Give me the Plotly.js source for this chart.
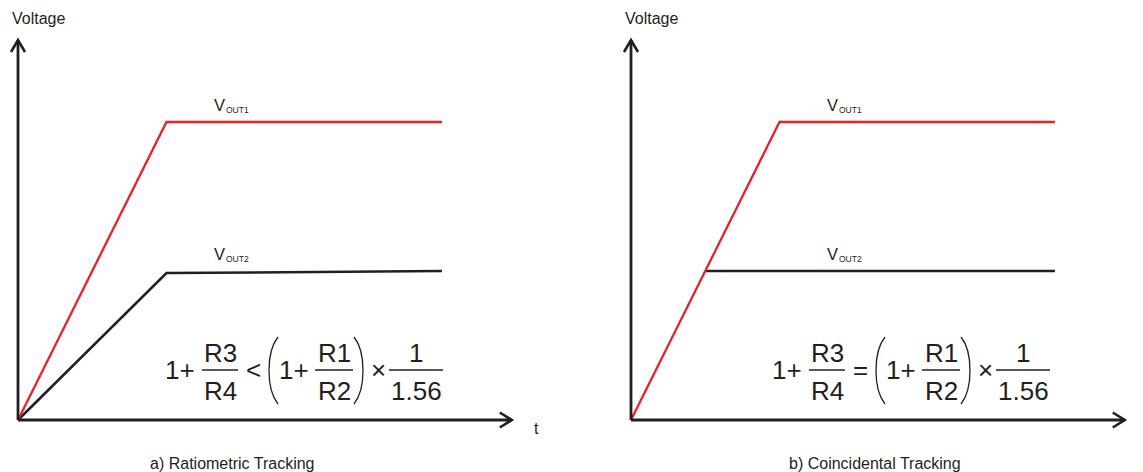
<!DOCTYPE html>
<html><head><meta charset="utf-8">
<script src="https://cdn.plot.ly/plotly-3.0.1.min.js"></script>
<style>html,body{margin:0;padding:0;background:#fff;} #chart{width:1143px;height:472px;}</style>
</head><body><div id="chart"></div>
<script>
// ---------- data ----------
const captions = ['a) Ratiometric Tracking', 'b) Coincidental Tracking'];
const yLabel = 'Voltage';
const xLabel = 't';
const seriesMain = 'V';
const seriesSubs = ['OUT1', 'OUT2'];
// panel a) ratiometric
const timeA1 = [0, 1, 2.855];
const vout1A = [0, 1, 1];
const timeA2 = [0, 1, 2.855];
const vout2A = [0, 0.493, 0.5];
// panel b) coincidental (VOUT2 follows VOUT1 until it settles)
const timeB1 = [0, 1, 2.855];
const vout1B = [0, 1, 1];
const timeB2 = [0.5, 2.855];
const vout2B = [0.5, 0.5];
// formulas
const relations = ['<', '='];

// ---------- geometry / style ----------
const W = 1143, H = 472;
const PX_T = 148.5, PX_V = 298;
const ORIGIN_Y = 420;
const ORIGINS_X = [18, 631];
const FONT = 'Liberation Sans, Arial, Helvetica, sans-serif';
const RED = '#e8202a', BLK = '#231f20', AX = '#231f20';

const fx = px => px / W;
const fy = py => 1 - py / H;

const layout = {
  width: W, height: H,
  margin: {l: 0, r: 0, t: 0, b: 0, pad: 0},
  paper_bgcolor: '#fff', plot_bgcolor: '#fff',
  showlegend: false,
  xaxis: {domain: [0, 0.5], range: [-ORIGINS_X[0] / PX_T, (W / 2 - ORIGINS_X[0]) / PX_T], visible: false, fixedrange: true},
  xaxis2: {domain: [0.5, 1], range: [-(ORIGINS_X[1] - W / 2) / PX_T, (W - ORIGINS_X[1]) / PX_T], visible: false, fixedrange: true, anchor: 'y2'},
  yaxis: {domain: [0, 1], range: [-(H - ORIGIN_Y) / PX_V, ORIGIN_Y / PX_V], visible: false, fixedrange: true},
  yaxis2: {domain: [0, 1], range: [-(H - ORIGIN_Y) / PX_V, ORIGIN_Y / PX_V], visible: false, fixedrange: true, anchor: 'x2'},
  shapes: [], annotations: []
};

function ann(text, px, py, size, xanchor, color) {
  layout.annotations.push({text: text, xref: 'paper', yref: 'paper', x: fx(px), y: fy(py),
    xanchor: xanchor || 'center', yanchor: 'middle', showarrow: false,
    font: {family: FONT, size: size, color: color || '#231f20'}});
}
function pline(x0, y0, x1, y1, w) {
  layout.shapes.push({type: 'line', xref: 'paper', yref: 'paper', x0: fx(x0), y0: fy(y0), x1: fx(x1), y1: fy(y1),
    line: {color: BLK, width: w}});
}
function ppath(pts, w) {
  const d = 'M' + fx(pts[0]) + ',' + fy(pts[1]) + ' C' + fx(pts[2]) + ',' + fy(pts[3]) + ' ' + fx(pts[4]) + ',' + fy(pts[5]) + ' ' + fx(pts[6]) + ',' + fy(pts[7]);
  layout.shapes.push({type: 'path', xref: 'paper', yref: 'paper', path: d, line: {color: BLK, width: w}});
}

// axes with arrows (data coordinates)
const X_TIP = 3.325, Y_TIP = (ORIGIN_Y - 40) / PX_V;
['', '2'].forEach(function (s) {
  const xr = 'x' + s, yr = 'y' + s;
  layout.shapes.push({type: 'line', xref: xr, yref: yr, x0: 0, y0: 0, x1: 0, y1: Y_TIP, line: {color: AX, width: 2.8}});
  layout.shapes.push({type: 'line', xref: xr, yref: yr, x0: 0, y0: 0, x1: X_TIP, y1: 0, line: {color: AX, width: 2.8}});
  const hx = 7 / PX_T, hy = 12 / PX_V;
  layout.shapes.push({type: 'path', xref: xr, yref: yr, path: 'M' + (-hx) + ',' + (Y_TIP - hy) + ' L0,' + Y_TIP + ' L' + hx + ',' + (Y_TIP - hy), line: {color: AX, width: 2.6}});
  const lx = 12 / PX_T, ly = 7.5 / PX_V;
  layout.shapes.push({type: 'path', xref: xr, yref: yr, path: 'M' + (X_TIP - lx) + ',' + ly + ' L' + X_TIP + ',0 L' + (X_TIP - lx) + ',' + (-ly), line: {color: AX, width: 2.6}});
});

// texts per panel
[0, 1].forEach(function (i) {
  const o = ORIGINS_X[i] - ORIGINS_X[0];
  ann(yLabel, 10 + o, 18, 16, 'left');
  ann(seriesMain, 212 + o, 105, 16.5, 'left');
  ann(seriesSubs[0], 224 + o, 110, 8.5, 'left');
  ann(seriesMain, 212 + o, 254, 16.5, 'left');
  ann(seriesSubs[1], 224 + o, 259, 8.5, 'left');
  ann(captions[i], [232, 874.5][i], 463, 16, 'center');
  // formula
  const f = i === 0 ? 0 : 607;
  ann('1+', 180 + f, 370, 26);
  pline(202 + f, 370, 238 + f, 370, 1.3);
  ann('R3', 220 + f, 353, 26);
  ann('R4', 220 + f, 391, 26);
  ann(relations[i], 253 + f, 370, 26);
  ppath([278 + f, 337, 266 + f, 352, 266 + f, 389, 278 + f, 404], 1.3);
  ann('1+', 294 + f, 370, 26);
  pline(315 + f, 370, 353 + f, 370, 1.3);
  ann('R1', 334 + f, 353, 26);
  ann('R2', 334 + f, 391, 26);
  ppath([354 + f, 337, 366 + f, 352, 366 + f, 389, 354 + f, 404], 1.3);
  ann('\u00d7', 378 + f, 370, 26);
  pline(389 + f, 370, 443 + f, 370, 1.3);
  ann('1', 416 + f, 353, 26);
  ann('1.56', 416 + f, 391, 26);
});
ann(xLabel, 536, 428, 16);

const base = {type: 'scatter', mode: 'lines', hoverinfo: 'skip', showlegend: false};
const data = [
  Object.assign({}, base, {x: timeA2, y: vout2A, xaxis: 'x', yaxis: 'y', line: {color: BLK, width: 2.5}}),
  Object.assign({}, base, {x: timeA1, y: vout1A, xaxis: 'x', yaxis: 'y', line: {color: RED, width: 2.3}}),
  Object.assign({}, base, {x: timeB2, y: vout2B, xaxis: 'x2', yaxis: 'y2', line: {color: BLK, width: 2.5}}),
  Object.assign({}, base, {x: timeB1, y: vout1B, xaxis: 'x2', yaxis: 'y2', line: {color: RED, width: 2.3}})
];

Plotly.newPlot('chart', data, layout, {staticPlot: true, displayModeBar: false});
</script></body></html>
